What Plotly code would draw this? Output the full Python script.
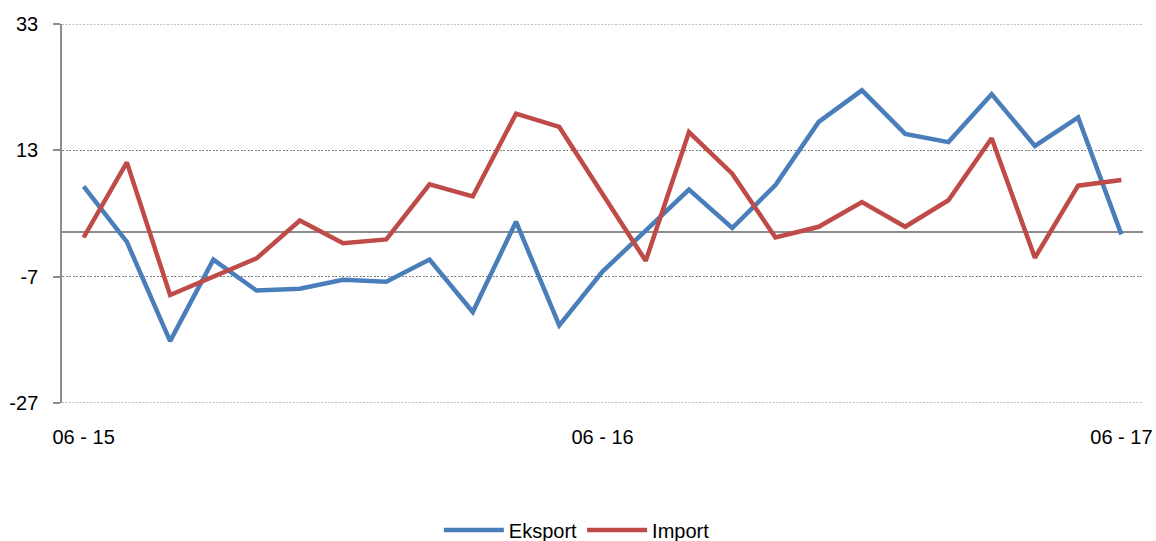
import plotly.graph_objects as go

months = list(range(25))
tick_positions = [0, 12, 24]
tick_labels = ["06 - 15", "06 - 16", "06 - 17"]

eksport = [7.3, -1.5, -17.2, -4.3, -9.2, -8.9, -7.5, -7.8, -4.3, -12.6, 1.7, -14.7, -6.2,
           0.3, 6.8, 0.7, 7.5, 17.5, 22.5, 15.6, 14.3, 21.9, 13.7, 18.2, -0.3]
importv = [-0.8, 11.1, -9.9, -7.0, -4.1, 1.9, -1.7, -1.1, 7.6, 5.7, 18.8, 16.7, 6.0,
           -4.5, 15.9, 9.3, -0.8, 0.9, 4.8, 0.9, 5.1, 14.9, -4.0, 7.4, 8.3]

y_ticks = [-27, -7, 13, 33]
y_tick_labels = ["-27", "-7", "13", "33"]

GRID = "#808080"
DASH = "2px,1.5px"

fig = go.Figure()
fig.add_trace(go.Scatter(x=months, y=eksport, mode="lines", name="Eksport",
                         line=dict(color="#4A7EBB", width=4.5)))
fig.add_trace(go.Scatter(x=months, y=importv, mode="lines", name="Import",
                         line=dict(color="#BE4B48", width=4.5)))

# edge gridlines (plotly hides gridlines lying on the plot edges)
for yv in (y_ticks[0], y_ticks[-1]):
    fig.add_shape(type="line", xref="paper", yref="y", x0=0, x1=1, y0=yv, y1=yv,
                  line=dict(color=GRID, width=1, dash=DASH), layer="below")

fig.update_layout(
    width=1156, height=541,
    margin=dict(l=62, r=13, t=24, b=138),
    paper_bgcolor="white", plot_bgcolor="white",
    font=dict(family="Liberation Sans, Arial", size=20, color="black"),
    showlegend=True,
    legend=dict(orientation="h", xref="container", yref="container",
                x=0.499, xanchor="center", y=0.0203, yanchor="middle",
                font=dict(size=20), itemwidth=60),
)
fig.update_xaxes(
    range=[-0.5, 24.5], tickvals=tick_positions, ticktext=tick_labels,
    showgrid=False, zeroline=False, showline=False, ticks="",
    ticklabelstandoff=20, automargin=False,
)
fig.update_yaxes(
    range=[-27, 33], tickvals=y_ticks, ticktext=y_tick_labels,
    showgrid=True, gridcolor=GRID, griddash=DASH, gridwidth=1,
    zeroline=True, zerolinecolor="#8C8C8C", zerolinewidth=1.5,
    showline=True, linecolor="#8C8C8C", linewidth=1.5,
    ticks="outside", ticklen=7, tickcolor="#8C8C8C", tickwidth=1.5,
    ticklabelstandoff=11, automargin=False,
)

fig.write_html("out.html", config={"displayModeBar": False},
               post_script="document.body.style.margin='0';")
